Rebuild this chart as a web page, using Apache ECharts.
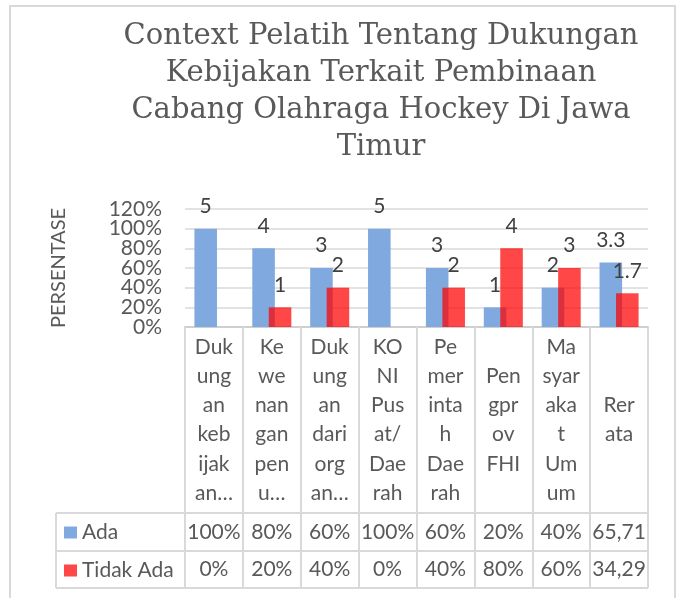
<!DOCTYPE html>
<html>
<head>
<meta charset="utf-8">
<script src="https://cdn.jsdelivr.net/npm/echarts@6/dist/echarts.min.js"></script>
<style>html,body{margin:0;padding:0;background:#fff;}#c{width:681px;height:598px;}</style>
</head>
<body>
<div id="c"></div>
<script>
// ---- data ----
const titleText = 'Context Pelatih Tentang Dukungan\nKebijakan Terkait Pembinaan\nCabang Olahraga Hockey Di Jawa\nTimur';
const categories = [
  'Duk\nung\nan\nkeb\nijak\nan…',
  'Ke\nwe\nnan\ngan\npen\nu…',
  'Duk\nung\nan\ndari\norg\nan…',
  'KO\nNI\nPus\nat/\nDae\nrah',
  'Pe\nmer\ninta\nh\nDae\nrah',
  'Pen\ngpr\nov\nFHI',
  'Ma\nsyar\naka\nt\nUm\num',
  'Rer\nata'
];
const seriesNames = ['Ada', 'Tidak Ada'];
const adaPct = [100, 80, 60, 100, 60, 20, 40, 65.71];
const tidakPct = [0, 20, 40, 0, 40, 80, 60, 34.29];
const adaCount = [5, 4, 3, 5, 3, 1, 2, 3.3];
const tidakCount = [0, 1, 2, 0, 2, 4, 3, 1.7];
const adaTable = ['100%', '80%', '60%', '100%', '60%', '20%', '40%', '65,71'];
const tidakTable = ['0%', '20%', '40%', '0%', '40%', '80%', '60%', '34,29'];
const yTicks = { min: 0, max: 120, interval: 20 };

// ---- layout ----
const FONT = 'Lato';
const FS = 21;
const TXT = '#595959';
const LINE = '#D9D9D9';
const gridL = 185, gridR = 648, gridT = 209, gridB = 327;
const tableL = 56, row1 = 513, row2 = 551, row3 = 588;

const chart = echarts.init(document.getElementById('c'), null, { renderer: 'canvas' });

const catAxisBase = {
  type: 'category',
  gridIndex: 0,
  position: 'bottom',
  axisLine: { show: false },
  axisTick: { show: false },
  splitLine: { show: false }
};

// value axis ticks are drawn by two overlaid axes (alternate labels) so the
// tightly packed Excel-style labels are all kept
const valAxisBase = {
  type: 'value',
  position: 'left',
  min: yTicks.min, max: yTicks.max, interval: yTicks.interval,
  axisLine: { show: false },
  axisTick: { show: false }
};
const tickLabel = (keepEven) => ({
  margin: 23, fontFamily: FONT, fontSize: FS, color: TXT,
  showMinLabel: true, showMaxLabel: true,
  formatter: v => {
    const even = Math.round((v - yTicks.min) / yTicks.interval) % 2 === 0;
    return even === keepEven ? v + '%' : '';
  }
});

chart.setOption({
  animation: false,
  backgroundColor: '#fff',
  title: {
    text: titleText,
    left: 376,
    top: 13,
    textAlign: 'center',
    textStyle: { fontFamily: 'DejaVu Serif', fontSize: 29, fontWeight: 'normal', color: TXT, lineHeight: 37 }
  },
  legend: {
    data: seriesNames,
    orient: 'vertical',
    left: 64,
    top: 522,
    padding: 0,
    itemWidth: 13,
    itemHeight: 12,
    itemGap: 17,
    icon: 'rect',
    textStyle: { fontFamily: FONT, fontSize: FS, color: TXT }
  },
  grid: {
    left: gridL, top: gridT, width: gridR - gridL, height: gridB - gridT,
    containLabel: false, outerBoundsMode: 'none'
  },
  xAxis: [
    Object.assign({}, catAxisBase, {
      data: categories,
      axisLine: { show: true, lineStyle: { color: '#CFCFCF', width: 2 } },
      axisTick: { show: true, length: row3 - gridB, lineStyle: { color: LINE, width: 2 } },
      axisLabel: {
        interval: 0, margin: 93, verticalAlign: 'middle',
        fontFamily: FONT, fontSize: FS, lineHeight: 29.3, color: TXT
      }
    }),
    Object.assign({}, catAxisBase, {
      data: adaTable,
      axisLabel: { interval: 0, margin: 205, verticalAlign: 'middle', fontFamily: FONT, fontSize: FS, color: TXT }
    }),
    Object.assign({}, catAxisBase, {
      data: tidakTable,
      axisLabel: { interval: 0, margin: 242, verticalAlign: 'middle', fontFamily: FONT, fontSize: FS, color: TXT }
    })
  ],
  yAxis: [
    Object.assign({}, valAxisBase, {
      name: 'PERSENTASE',
      nameLocation: 'middle',
      nameGap: 116,
      nameRotate: 90,
      nameTextStyle: { fontFamily: FONT, fontSize: 20, color: TXT },
      axisLabel: tickLabel(true),
      splitLine: { lineStyle: { color: LINE, width: 1.5 } }
    }),
    Object.assign({}, valAxisBase, {
      axisLabel: tickLabel(false),
      splitLine: { show: false }
    })
  ],
  series: [
    {
      name: seriesNames[0], type: 'bar', xAxisIndex: 0, yAxisIndex: 0,
      data: adaPct, barWidth: '39%', barGap: '-27%',
      itemStyle: { color: '#80AADF' },
      label: {
        show: true, position: 'top', distance: 12,
        fontFamily: FONT, fontSize: FS, color: '#404040',
        formatter: p => adaCount[p.dataIndex] ? String(adaCount[p.dataIndex]) : ''
      }
    },
    {
      name: seriesNames[1], type: 'bar', xAxisIndex: 0, yAxisIndex: 0,
      data: tidakPct, barWidth: '39%', barGap: '-27%',
      itemStyle: { color: 'rgba(255,0,0,0.72)' },
      label: {
        show: true, position: 'top', distance: 12,
        fontFamily: FONT, fontSize: FS, color: '#404040',
        formatter: p => tidakCount[p.dataIndex] ? String(tidakCount[p.dataIndex]) : ''
      }
    }
  ],
  graphic: [
    { type: 'rect', shape: { x: 10, y: 6, width: 665, height: 640 }, style: { fill: 'none', stroke: LINE, lineWidth: 2 }, silent: true },
    { type: 'line', shape: { x1: tableL, y1: row1, x2: gridR, y2: row1 }, style: { stroke: LINE, lineWidth: 2 }, silent: true },
    { type: 'line', shape: { x1: tableL, y1: row2, x2: gridR, y2: row2 }, style: { stroke: LINE, lineWidth: 2 }, silent: true },
    { type: 'line', shape: { x1: tableL, y1: row3, x2: gridR, y2: row3 }, style: { stroke: LINE, lineWidth: 2 }, silent: true },
    { type: 'line', shape: { x1: tableL, y1: row1, x2: tableL, y2: row3 }, style: { stroke: LINE, lineWidth: 2 }, silent: true }
  ]
});
</script>
</body>
</html>
